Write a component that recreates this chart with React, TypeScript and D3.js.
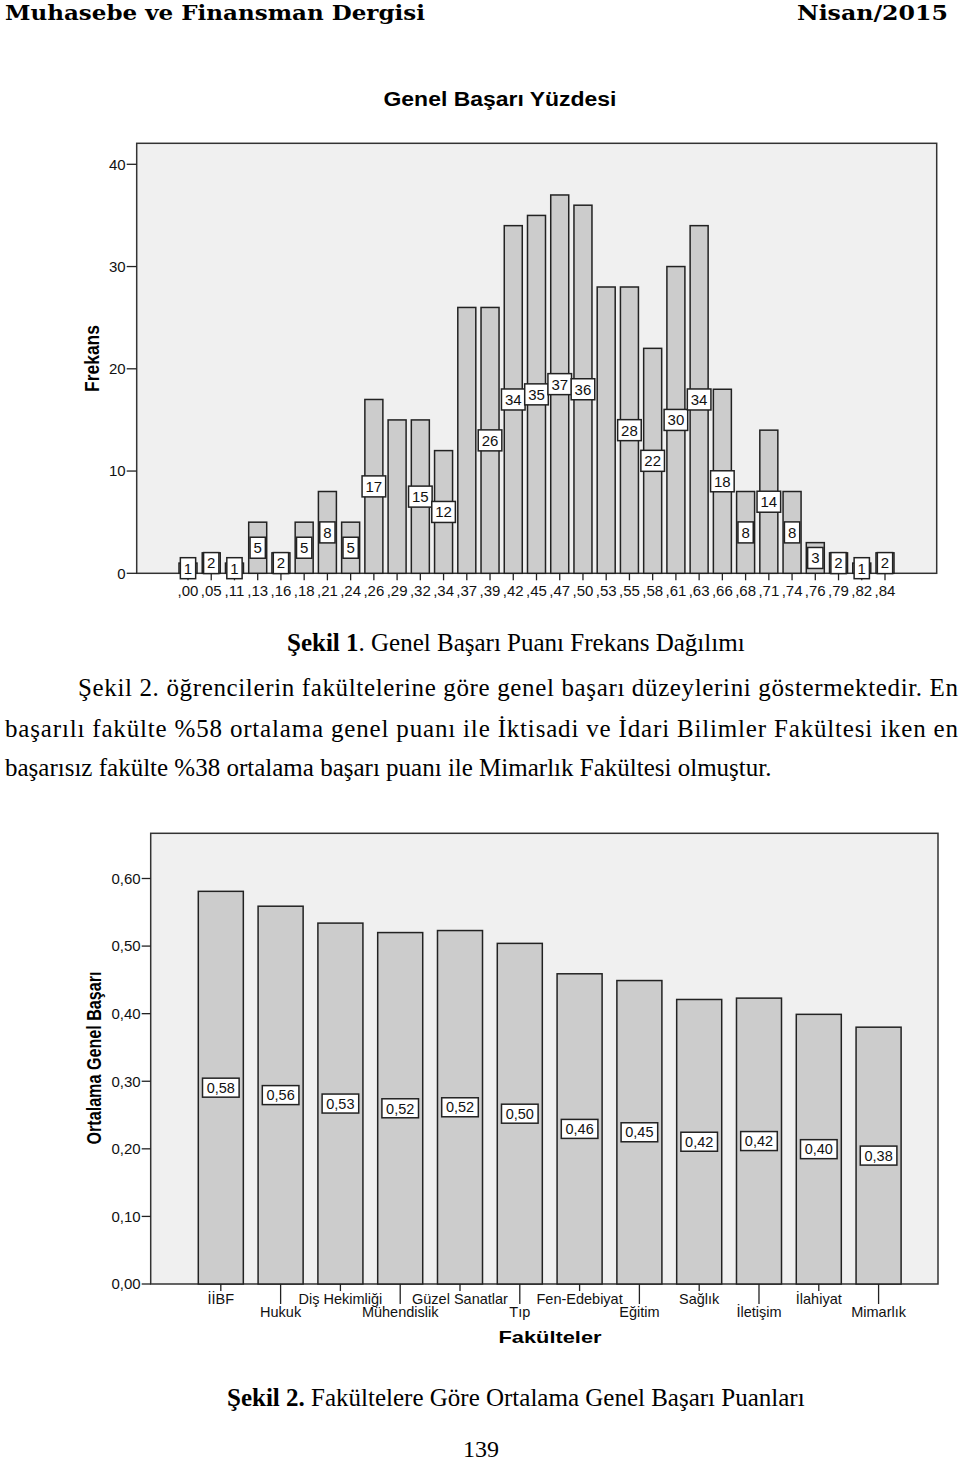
import React from "react";
import * as d3 from "d3";

// histogram: Genel Başarı Yüzdesi
const binLabels = [",00", ",05", ",11", ",13", ",16", ",18", ",21", ",24", ",26", ",29", ",32", ",34", ",37", ",39", ",42", ",45", ",47", ",50", ",53", ",55", ",58", ",61", ",63", ",66", ",68", ",71", ",74", ",76", ",79", ",82", ",84"];
const frequencies = [1, 2, 1, 5, 2, 5, 8, 5, 17, 15, 15, 12, 26, 26, 34, 35, 37, 36, 28, 28, 22, 30, 34, 18, 8, 14, 8, 3, 2, 1, 2];
// SPSS left these labels out (they overlapped the neighbours)
const hiddenBinLabels = [",29", ",37", ",53"];
const freqTicks = [0, 10, 20, 30, 40];

// bar chart: mean score per faculty
const faculties = ["İİBF", "Hukuk", "Diş Hekimliği", "Mühendislik", "Güzel Sanatlar", "Tıp", "Fen-Edebiyat", "Eğitim", "Sağlık", "İletişim", "İlahiyat", "Mimarlık"];
const meanScores = [0.581, 0.559, 0.534, 0.52, 0.523, 0.504, 0.459, 0.449, 0.421, 0.423, 0.399, 0.38];
const meanTicks = [0, 0.1, 0.2, 0.3, 0.4, 0.5, 0.6];

const paragraph = [
  "Şekil 2. öğrencilerin fakültelerine göre genel başarı düzeylerini göstermektedir. En",
  "başarılı fakülte %58 ortalama genel puanı ile İktisadi ve İdari Bilimler Fakültesi iken en",
  "başarısız fakülte %38 ortalama başarı puanı ile Mimarlık Fakültesi olmuştur.",
];

const sans = "'Liberation Sans', Arial, Helvetica, sans-serif";
const serif = "'Liberation Serif', 'Times New Roman', serif";
const trLocale = d3.formatLocale({ decimal: ",", thousands: ".", grouping: [3], currency: ["", ""] });
const fmt2 = trLocale.format(".2f");

const BAR_FILL = "#cccccc";
const PLOT_BG = "#f0f0f0";
const INK = "#222";

function Histogram() {
  const frame = { left: 136.7, top: 143.3, right: 936.7, bottom: 573.3 };
  const x = d3.scaleBand().domain(binLabels).range([179, 894]).paddingInner(0.225);
  const y = d3.scaleLinear().domain([0, 40]).range([frame.bottom, 164.3]);
  const bw = x.bandwidth();

  return (
    <g>
      <text x={500} y={106} textAnchor="middle" fontFamily={sans} fontWeight="bold" fontSize={20}
        textLength={233} lengthAdjust="spacingAndGlyphs">Genel Başarı Yüzdesi</text>
      <rect x={frame.left} y={frame.top} width={frame.right - frame.left} height={frame.bottom - frame.top}
        fill={PLOT_BG} stroke="#333" strokeWidth={1.5} />
      <text transform={`translate(99,358.5) rotate(-90)`} textAnchor="middle" fontFamily={sans}
        fontWeight="bold" fontSize={20} textLength={67} lengthAdjust="spacingAndGlyphs">Frekans</text>
      {freqTicks.map((t) => (
        <g key={t}>
          <line x1={frame.left - 10} x2={frame.left} y1={y(t)} y2={y(t)} stroke={INK} strokeWidth={1.3} />
          <text x={frame.left - 11} y={y(t)} dy="0.35em" textAnchor="end" fontFamily={sans} fontSize={15}
            fill="#111">{t}</text>
        </g>
      ))}
      {binLabels.map((b, i) => (
        <rect key={b} x={x(b)} y={y(frequencies[i])} width={bw} height={y(0) - y(frequencies[i])}
          fill={BAR_FILL} stroke={INK} strokeWidth={1.5} />
      ))}
      {binLabels.map((b) => (
        <g key={b}>
          <line x1={x(b)! + bw / 2} x2={x(b)! + bw / 2} y1={frame.bottom} y2={frame.bottom + 7} stroke={INK} strokeWidth={1.3} />
          <text x={x(b)! + bw / 2} y={596} textAnchor="middle" fontFamily={sans} fontSize={15} fill="#111">{b}</text>
        </g>
      ))}
      {binLabels.map((b, i) => {
        if (hiddenBinLabels.includes(b)) return null;
        const v = frequencies[i];
        const s = String(v);
        const w = s.length * 8.3 + 7;
        const cx = x(b)! + bw / 2;
        const cy = y(v / 2);
        return (
          <g key={b}>
            <rect x={cx - w / 2} y={cy - 10.5} width={w} height={21} fill="#fff" stroke={INK} strokeWidth={1.5} />
            <text x={cx} y={cy} dy="0.36em" textAnchor="middle" fontFamily={sans} fontSize={15} fill="#111">{s}</text>
          </g>
        );
      })}
    </g>
  );
}

function FacultyChart() {
  const frame = { left: 150.7, top: 833.3, right: 938, bottom: 1284 };
  const x = d3.scaleBand().domain(faculties).range([198.3, 901.1]).paddingInner(0.247);
  const y = d3.scaleLinear().domain([0, 0.6]).range([frame.bottom, 878.5]);
  const bw = x.bandwidth();

  return (
    <g>
      <rect x={frame.left} y={frame.top} width={frame.right - frame.left} height={frame.bottom - frame.top}
        fill={PLOT_BG} stroke="#333" strokeWidth={1.5} />
      <text transform={`translate(100.5,1058) rotate(-90)`} textAnchor="middle" fontFamily={sans}
        fontWeight="bold" fontSize={21} textLength={173} lengthAdjust="spacingAndGlyphs">Ortalama Genel Başarı</text>
      {meanTicks.map((t) => (
        <g key={t}>
          <line x1={frame.left - 9} x2={frame.left} y1={y(t)} y2={y(t)} stroke={INK} strokeWidth={1.3} />
          <text x={frame.left - 10} y={y(t)} dy="0.35em" textAnchor="end" fontFamily={sans} fontSize={15}
            fill="#111">{fmt2(t)}</text>
        </g>
      ))}
      {faculties.map((f, i) => (
        <rect key={f} x={x(f)} y={y(meanScores[i])} width={bw} height={y(0) - y(meanScores[i])}
          fill={BAR_FILL} stroke={INK} strokeWidth={1.5} />
      ))}
      {faculties.map((f, i) => {
        const cx = x(f)! + bw / 2;
        const lower = i % 2 === 1;
        return (
          <g key={f}>
            <line x1={cx} x2={cx} y1={frame.bottom} y2={frame.bottom + (lower ? 20 : 7)} stroke={INK} strokeWidth={1.3} />
            <text x={cx} y={lower ? 1317 : 1304} textAnchor="middle" fontFamily={sans} fontSize={14.5} fill="#111">{f}</text>
          </g>
        );
      })}
      {faculties.map((f, i) => {
        const cx = x(f)! + bw / 2;
        const cy = y(meanScores[i] / 2);
        return (
          <g key={f}>
            <rect x={cx - 18.3} y={cy - 9.5} width={36.6} height={19} fill="#fff" stroke={INK} strokeWidth={1.5} />
            <text x={cx} y={cy} dy="0.36em" textAnchor="middle" fontFamily={sans} fontSize={14.5} fill="#111">
              {fmt2(meanScores[i])}
            </text>
          </g>
        );
      })}
      <text x={550} y={1343} textAnchor="middle" fontFamily={sans} fontWeight="bold" fontSize={17}
        textLength={103} lengthAdjust="spacingAndGlyphs">Fakülteler</text>
    </g>
  );
}

export default function App() {
  return (
    <div style={{ position: "absolute", left: 0, top: 0 }}>
      <svg width={960} height={1464} style={{ display: "block", background: "#fff" }}>
        <text x={5} y={20} fontFamily="'DejaVu Serif', serif" fontWeight="bold" fontSize={21}
          textLength={420} lengthAdjust="spacingAndGlyphs">Muhasebe ve Finansman Dergisi</text>
        <text x={948} y={20} textAnchor="end" fontFamily="'DejaVu Serif', serif" fontWeight="bold" fontSize={21}
          textLength={151} lengthAdjust="spacingAndGlyphs">Nisan/2015</text>

        <Histogram />

        <text x={287} y={651} fontFamily={serif} fontSize={25}>
          <tspan fontWeight="bold">Şekil 1</tspan>. Genel Başarı Puanı Frekans Dağılımı
        </text>

        <text x={78} y={696} fontFamily={serif} fontSize={25} textLength={880} lengthAdjust="spacing">{paragraph[0]}</text>
        <text x={5} y={737} fontFamily={serif} fontSize={25} textLength={953} lengthAdjust="spacing">{paragraph[1]}</text>
        <text x={5} y={776} fontFamily={serif} fontSize={25}>{paragraph[2]}</text>

        <FacultyChart />

        <text x={227} y={1406} fontFamily={serif} fontSize={25}>
          <tspan fontWeight="bold">Şekil 2.</tspan> Fakültelere Göre Ortalama Genel Başarı Puanları
        </text>
        <text x={481} y={1457} textAnchor="middle" fontFamily={serif} fontSize={24}>139</text>
      </svg>
    </div>
  );
}
